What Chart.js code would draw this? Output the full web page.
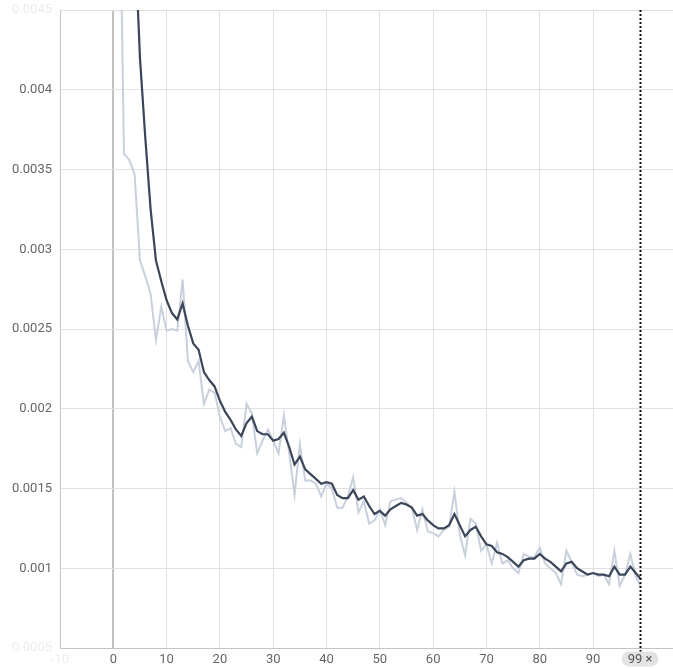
<!DOCTYPE html>
<html>
<head>
<meta charset="utf-8">
<script src="https://cdn.jsdelivr.net/npm/chart.js@4/dist/chart.umd.min.js"></script>
<style>
  html, body { margin: 0; padding: 0; background: #ffffff; }
  #wrap { width: 673px; height: 669px; }
</style>
</head>
<body>
<div id="wrap"><canvas id="c" width="673" height="669"></canvas></div>
<script>
// Training steps
const steps = [
  0, 1, 2, 3, 4, 5, 6, 7, 8, 9, 10, 11, 12, 13, 14, 15, 16, 17, 18, 19,
  20, 21, 22, 23, 24, 25, 26, 27, 28, 29, 30, 31, 32, 33, 34, 35, 36, 37, 38, 39,
  40, 41, 42, 43, 44, 45, 46, 47, 48, 49, 50, 51, 52, 53, 54, 55, 56, 57, 58, 59,
  60, 61, 62, 63, 64, 65, 66, 67, 68, 69, 70, 71, 72, 73, 74, 75, 76, 77, 78, 79,
  80, 81, 82, 83, 84, 85, 86, 87, 88, 89, 90, 91, 92, 93, 94, 95, 96, 97, 98, 99
];

// Raw loss per step
const rawLoss = [
  0.0095, 0.0058, 0.0036, 0.00356, 0.00347, 0.00293, 0.00283, 0.00272, 0.00243, 0.00264,
  0.00249, 0.00250, 0.00249, 0.00281, 0.00230, 0.00223, 0.00230, 0.00203, 0.00212, 0.00210,
  0.00195, 0.00186, 0.00188, 0.00178, 0.00176, 0.00203, 0.00197, 0.00172, 0.00180, 0.00187,
  0.00180, 0.00172, 0.00196, 0.00172, 0.00146, 0.00178, 0.00155, 0.00155, 0.00153, 0.00145,
  0.00153, 0.00150, 0.00138, 0.00138, 0.00145, 0.00157, 0.00135, 0.00142, 0.00128, 0.00130,
  0.00137, 0.00127, 0.00142, 0.00143, 0.00144, 0.00141, 0.00138, 0.00124, 0.00137, 0.00123,
  0.00122, 0.00120, 0.00124, 0.00126, 0.00148, 0.00121, 0.00108, 0.00131, 0.00128, 0.00111,
  0.00115, 0.00103, 0.00116, 0.00103, 0.00105, 0.00100, 0.00097, 0.00109, 0.00107, 0.00107,
  0.00113, 0.00103, 0.00100, 0.00097, 0.00090, 0.00111, 0.00104, 0.00096, 0.00095, 0.00096,
  0.00097, 0.00095, 0.00096, 0.00090, 0.00111, 0.00089, 0.00096, 0.00109, 0.00095, 0.00088
];

// Smoothed loss per step
const smoothLoss = [
  0.0090, 0.0078, 0.0066, 0.0057, 0.0050, 0.0042, 0.0037, 0.00325, 0.00293, 0.00280,
  0.00268, 0.00260, 0.00256, 0.00266, 0.00252, 0.00241, 0.00237, 0.00223, 0.00218, 0.00214,
  0.00205, 0.00198, 0.00193, 0.00187, 0.00183, 0.00191, 0.00195, 0.00186, 0.00184, 0.00184,
  0.00180, 0.00181, 0.00185, 0.00176, 0.00165, 0.00170, 0.00162, 0.00159, 0.00156, 0.00153,
  0.00154, 0.00153, 0.00146, 0.00144, 0.00144, 0.00149, 0.00143, 0.00145, 0.00139, 0.00134,
  0.00136, 0.00133, 0.00137, 0.00139, 0.00141, 0.00140, 0.00138, 0.00133, 0.00134, 0.00130,
  0.00127, 0.00125, 0.00125, 0.00127, 0.00134, 0.00127, 0.00120, 0.00124, 0.00126, 0.00120,
  0.00115, 0.00114, 0.00110, 0.00109, 0.00107, 0.00104, 0.00101, 0.00105, 0.00106, 0.00106,
  0.00109, 0.00106, 0.00104, 0.00101, 0.00098, 0.00103, 0.00104, 0.00100, 0.00098, 0.00096,
  0.00097, 0.00096, 0.00096, 0.00095, 0.00101, 0.00096, 0.00096, 0.00101, 0.00097, 0.00093
];

// Axis ticks
const xTicks = [-10, 0, 10, 20, 30, 40, 50, 60, 70, 80, 90];
const yTicks = [0.0005, 0.001, 0.0015, 0.002, 0.0025, 0.003, 0.0035, 0.004, 0.0045];
const markerStep = 99;
const markerLabel = '99 \u00d7';

const FONT = 'Roboto, "Noto Sans", sans-serif';

const toPoints = (vals) => steps.map((s, i) => ({ x: s, y: vals[i] }));

// Vertical dotted step marker with its pill label
const markerPlugin = {
  id: 'stepMarker',
  afterDatasetsDraw(chart) {
    const { ctx, chartArea, scales } = chart;
    const px = Math.round(scales.x.getPixelForValue(markerStep)) - 0.5;
    ctx.save();
    ctx.strokeStyle = '#111111';
    ctx.lineWidth = 2;
    ctx.setLineDash([2, 2]);
    ctx.beginPath();
    ctx.moveTo(px, chartArea.top);
    ctx.lineTo(px, chartArea.bottom + 4);
    ctx.stroke();
    ctx.restore();
  },
  afterDraw(chart) {
    const { ctx, chartArea, scales } = chart;
    const px = scales.x.getPixelForValue(markerStep) - 1;
    ctx.save();
    ctx.font = '13px ' + FONT;
    const w = ctx.measureText(markerLabel).width + 12;
    const h = 15;
    const cy = chartArea.bottom + 11;
    const x0 = px - w / 2, y0 = cy - h / 2;
    ctx.fillStyle = '#e3e3e3';
    ctx.beginPath();
    ctx.roundRect(x0, y0, w, h, 7.5);
    ctx.fill();
    ctx.fillStyle = '#555555';
    ctx.textAlign = 'center';
    ctx.textBaseline = 'middle';
    ctx.fillText(markerLabel, px, cy + 0.5);
    ctx.restore();
  }
};

new Chart(document.getElementById('c'), {
  type: 'line',
  data: {
    datasets: [
      {
        label: 'loss (smoothed)',
        data: toPoints(smoothLoss),
        borderColor: '#3b4659',
        borderWidth: 2.2,
        pointRadius: 0,
        tension: 0
      },
      {
        label: 'loss',
        data: toPoints(rawLoss),
        borderColor: '#c9d0dd',
        borderWidth: 2,
        pointRadius: 0,
        tension: 0
      }
    ]
  },
  options: {
    responsive: false,
    animation: false,
    devicePixelRatio: 1,
    layout: { padding: { top: 10, right: 0, bottom: 0, left: 0 } },
    plugins: {
      legend: { display: false },
      tooltip: { enabled: false }
    },
    scales: {
      x: {
        type: 'linear',
        min: -10,
        max: 105,
        afterBuildTicks(scale) {
          scale.ticks = xTicks.map(v => ({ value: v }));
        },
        afterFit(scale) {
          scale.height = 21;
          scale.paddingLeft = 0;
          scale.paddingRight = 0;
        },
        grid: {
          color: (c) => c.tick && c.tick.value === 0 ? '#c2c2c2' : '#e1e1e1',
          lineWidth: (c) => c.tick && c.tick.value === 0 ? 2 : 1,
          drawTicks: false
        },
        border: { color: '#c4c4c4', width: 1 },
        ticks: {
          padding: 4,
          font: { family: FONT, size: 13 },
          color: (c) => c.tick && c.tick.value === -10 ? '#ececec' : '#666666',
          callback: (v) => String(v),
          maxRotation: 0
        }
      },
      y: {
        type: 'linear',
        min: 0.0005,
        max: 0.0045,
        afterBuildTicks(scale) {
          scale.ticks = yTicks.map(v => ({ value: v }));
        },
        afterFit(scale) {
          scale.width = 60;
          scale.paddingTop = 0;
          scale.paddingBottom = 0;
        },
        grid: {
          color: '#e1e1e1',
          lineWidth: 1,
          drawTicks: false
        },
        border: { color: '#c4c4c4', width: 1 },
        ticks: {
          padding: 8,
          font: { family: FONT, size: 13 },
          color: (c) => c.tick && (c.tick.value === 0.0005 || c.tick.value === 0.0045) ? '#ececec' : '#666666',
          callback: (v) => String(+v.toFixed(4))
        }
      }
    }
  },
  plugins: [markerPlugin]
});
</script>
</body>
</html>
